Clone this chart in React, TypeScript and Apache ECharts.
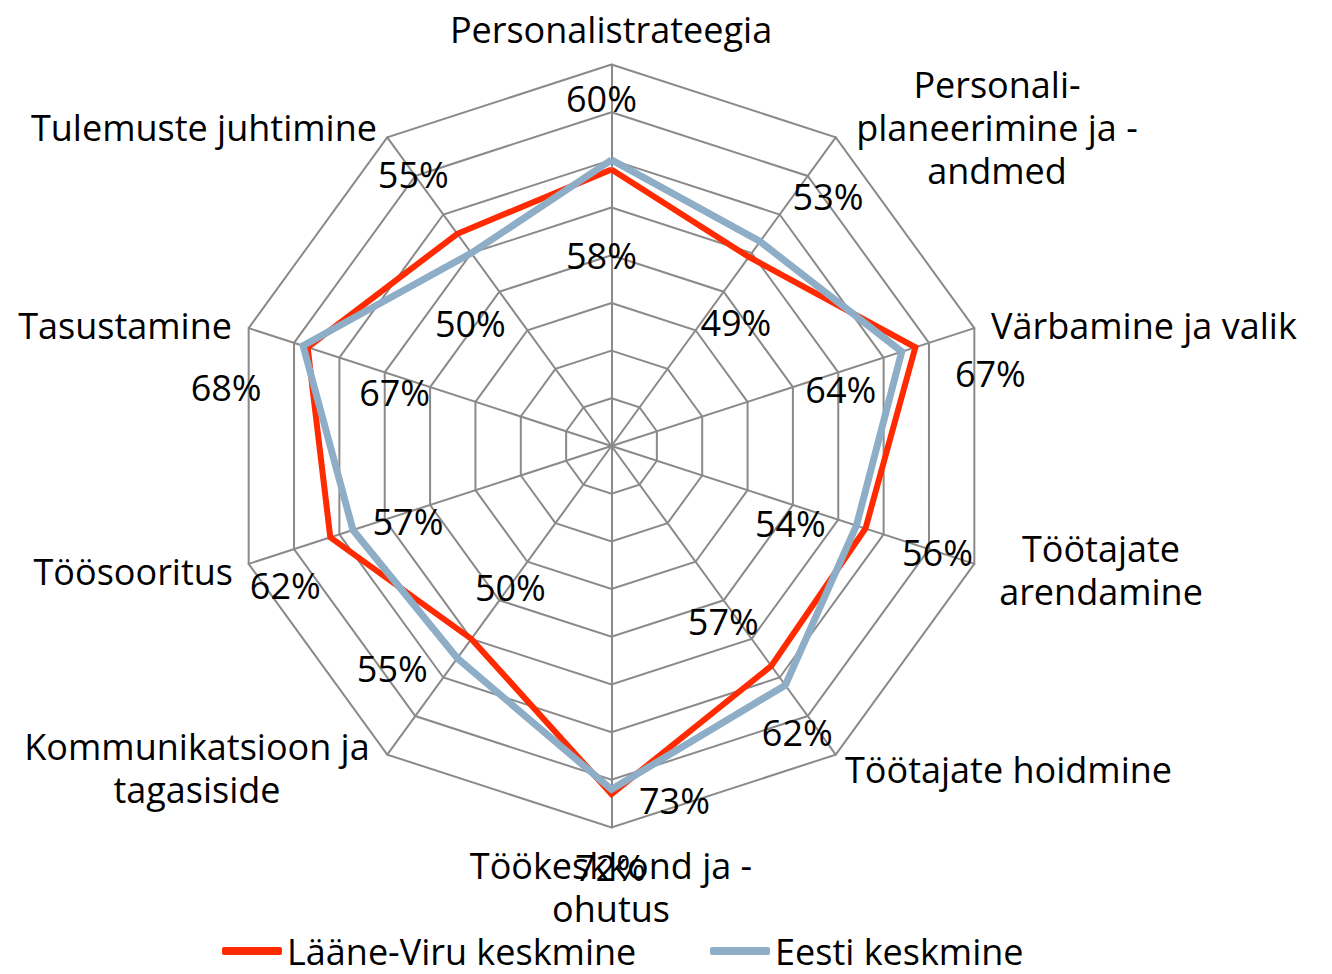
import React, { useEffect, useRef } from 'react';
import * as echarts from 'echarts';

// ---------- data ----------
const CATEGORIES = [
  'Personalistrateegia',
  'Personali-\nplaneerimine ja -\nandmed',
  'Värbamine ja valik',
  'Töötajate\narendamine',
  'Töötajate hoidmine',
  'Töökeskkond ja -\nohutus',
  'Kommunikatsioon ja\ntagasiside',
  'Töösooritus',
  'Tasustamine',
  'Tulemuste juhtimine',
];
const SERIES_NAMES = ['Lääne-Viru keskmine', 'Eesti keskmine'];
const LAANE_VIRU = [58, 49, 67, 56, 57, 73, 50, 62, 67, 55];
const EESTI = [60, 53, 64, 54, 62, 72, 55, 57, 68, 50];
const AXIS_MIN = 0;
const AXIS_MAX = 80;
const SPLIT_COUNT = 8;

// ---------- presentation ----------
const RED = '#ff2a00';
const BLUE = '#8eadc6';
const GRID = '#8a8a8a';
const FONT = 'Open Sans';
const FONT_SIZE = 36;
const CX = 611.5;
const CY = 446;
const R = 381.5;

// label offsets (px) from each data point
const LV_LABEL_OFFSETS = [
  [-10, 86], [-13, 66], [75, 26], [72, 24], [-48, -44],
  [63, 6], [39, -51], [-45, 48], [87, 45], [-44, -59],
];
const EESTI_LABEL_OFFSETS = [
  [-10, -61], [68, -45], [-61, 38], [-66, -2], [12, 47],
  [-1, 78], [-65, 10], [55, -8], [-77, 42], [-1, 70],
];
// axis-name placement
const NAME_LAYOUT = [
  { x: 611, y: 29, align: 'center' },
  { x: 997, y: 127, align: 'center' },
  { x: 991, y: 325, align: 'left' },
  { x: 1101, y: 570, align: 'center' },
  { x: 845, y: 769, align: 'left' },
  { x: 611, y: 887, align: 'center' },
  { x: 197, y: 768, align: 'center' },
  { x: 233, y: 571, align: 'right' },
  { x: 232, y: 325, align: 'right' },
  { x: 377, y: 127, align: 'right' },
];

// ECharts radar runs counter-clockwise; the reference runs clockwise.
const toRadarOrder = <T,>(arr: T[]): T[] => [arr[0], ...arr.slice(1).reverse()];

export default function App() {
  const ref = useRef<HTMLDivElement>(null);

  useEffect(() => {
    if (!ref.current) return;
    const chart = echarts.init(ref.current, undefined, { renderer: 'svg' });
    const n = CATEGORIES.length;
    const step = 360 / n;

    const labelSeries = (values: number[], offsets: number[][], name: string) => ({
      type: 'scatter',
      name,
      coordinateSystem: 'polar',
      symbolSize: 1,
      silent: true,
      z: 10,
      itemStyle: { color: 'rgba(255,255,255,0)', opacity: 1 },
      label: {
        show: true,
        position: 'inside',
        color: '#000',
        opacity: 1,
        textBorderWidth: 0,
        textBorderColor: 'transparent',
        fontSize: FONT_SIZE,
        fontFamily: FONT,
        formatter: (p: any) => `${p.value[0]}%`,
      },
      data: values.map((v, i) => ({
        value: [v, i * step],
        label: { offset: offsets[i] },
      })),
    });

    const legendBase = {
      top: 933,
      padding: 0,
      itemWidth: 60,
      itemHeight: 8,
      icon: 'roundRect',
      textStyle: { fontSize: FONT_SIZE, fontFamily: FONT, color: '#000', lineHeight: 34 },
    };

    chart.setOption({
      animation: false,
      backgroundColor: '#ffffff',
      radar: {
        center: [CX, CY],
        radius: R,
        startAngle: 90,
        shape: 'polygon',
        splitNumber: SPLIT_COUNT,
        indicator: toRadarOrder(CATEGORIES).map((c) => ({
          name: c.replace(/\n/g, ' '),
          min: AXIS_MIN,
          max: AXIS_MAX,
        })),
        axisName: { show: false },
        splitArea: { show: false },
        splitLine: { lineStyle: { color: GRID, width: 2 } },
        axisLine: { lineStyle: { color: GRID, width: 2 } },
        axisTick: { show: false },
        axisLabel: { show: false },
      },
      polar: { center: [CX, CY], radius: R },
      angleAxis: { type: 'value', min: 0, max: 360, startAngle: 90, clockwise: true, show: false },
      radiusAxis: { type: 'value', min: AXIS_MIN, max: AXIS_MAX, show: false },
      legend: [
        { ...legendBase, left: 222, data: [SERIES_NAMES[0]] },
        { ...legendBase, left: 710, data: [SERIES_NAMES[1]] },
      ],
      graphic: CATEGORIES.map((name, i) => ({
        type: 'text',
        x: NAME_LAYOUT[i].x,
        y: NAME_LAYOUT[i].y,
        silent: true,
        style: {
          text: name,
          fill: '#000',
          fontSize: FONT_SIZE,
          fontFamily: FONT,
          align: NAME_LAYOUT[i].align,
          verticalAlign: 'middle',
          lineHeight: 43,
        },
      })),
      series: [
        {
          type: 'radar',
          name: SERIES_NAMES[0],
          symbol: 'none',
          z: 3,
          lineStyle: { color: RED, width: 6, join: 'miter' },
          itemStyle: { color: RED },
          data: [{ name: SERIES_NAMES[0], value: toRadarOrder(LAANE_VIRU) }],
        },
        {
          type: 'radar',
          name: SERIES_NAMES[1],
          symbol: 'none',
          z: 4,
          lineStyle: { color: BLUE, width: 7, join: 'miter' },
          itemStyle: { color: BLUE },
          data: [{ name: SERIES_NAMES[1], value: toRadarOrder(EESTI) }],
        },
        labelSeries(LAANE_VIRU, LV_LABEL_OFFSETS, 'lv-labels'),
        labelSeries(EESTI, EESTI_LABEL_OFFSETS, 'eesti-labels'),
      ],
    });

    return () => chart.dispose();
  }, []);

  return (
    <div
      ref={ref}
      style={{ position: 'absolute', left: 0, top: 0, width: 1332, height: 974 }}
    />
  );
}
